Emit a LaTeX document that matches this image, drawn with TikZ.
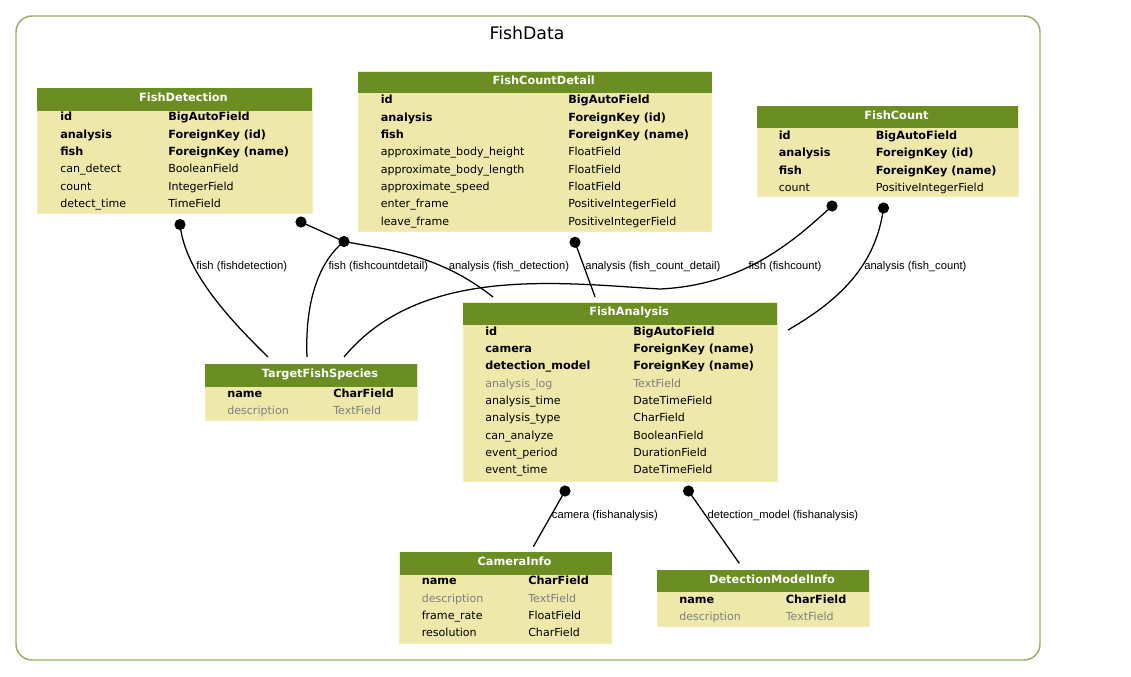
\documentclass[tikz,border=0pt]{standalone}
\usepackage{fontspec}
\setmainfont{DejaVu Sans}
\newfontfamily\lblfont{Liberation Sans}
\usetikzlibrary{fit}
\definecolor{hdr}{RGB}{107,142,35}
\definecolor{bodyc}{RGB}{238,232,170}
\definecolor{framec}{RGB}{151,176,101}
\definecolor{grayt}{RGB}{128,128,128}
\tikzset{
  tbodyst/.style={fill=bodyc, draw=bodyc!80!white, line width=0.5pt, inner sep=0pt},
  thdrst/.style={fill=hdr, inner sep=0pt},
  htext/.style={font=\fontsize{8.5}{10}\selectfont\bfseries, text=white, inner sep=0pt, anchor=base, yshift=-1.6pt, xshift=6.75pt},
  fb/.style={font=\fontsize{8.45}{10}\selectfont\bfseries, text=black, inner sep=0pt, anchor=base west},
  fr/.style={font=\fontsize{8.3}{10}\selectfont, text=black, inner sep=0pt, anchor=base west},
  fg/.style={font=\fontsize{8.3}{10}\selectfont, text=grayt, inner sep=0pt, anchor=base west},
  elbl/.style={font=\lblfont\fontsize{8.4}{10}\selectfont, inner sep=0pt, anchor=base west},
  dotn/.style={circle, fill=black, minimum size=8.4pt, inner sep=0pt},
  edge/.style={draw=black, line width=0.95pt},
}
% name, x1, ytop, x2, yheaderbottom, ybottom, title
\newcommand\ertable[7]{%
  \node[fit={(#2,#3)(#4,#6)}, tbodyst] (#1) {};
  \node[fit={(#2,#3)(#4,#5)}, thdrst] (#1h) {};
  \node[htext] (#1t) at (#1h.center) {#7};}
% name, x, baseline-y, style, text
\newcommand\erf[5]{\node[#4] (#1) at (#2,#3) {#5};}
\begin{document}
\begin{tikzpicture}[x=0.75pt,y=-0.75pt]
\useasboundingbox (0,0) rectangle (1131,676);
\draw[framec, line width=1.1pt, rounded corners=12pt] (16,16) rectangle (1040,660);
\node[font=\fontsize{13}{15}\selectfont, inner sep=0pt, anchor=base] (title) at (527,39) {FishData};

% FishDetection
\ertable{fd}{37}{88}{312}{110.5}{213.5}{FishDetection}
\erf{fdn1}{60}{120.8}{fb}{id}                \erf{fdt1}{168}{120.8}{fb}{BigAutoField}
\erf{fdn2}{60}{138.2}{fb}{analysis}          \erf{fdt2}{168}{138.2}{fb}{ForeignKey (id)}
\erf{fdn3}{60}{155.5}{fb}{fish}              \erf{fdt3}{168}{155.5}{fb}{ForeignKey (name)}
\erf{fdn4}{60}{172.9}{fr}{can\_detect}       \erf{fdt4}{168}{172.9}{fr}{BooleanField}
\erf{fdn5}{60}{190.2}{fr}{count}             \erf{fdt5}{168}{190.2}{fr}{IntegerField}
\erf{fdn6}{60}{207.6}{fr}{detect\_time}      \erf{fdt6}{168}{207.6}{fr}{TimeField}

% FishCountDetail
\ertable{fcd}{358}{71.5}{711.5}{93.3}{231.5}{FishCountDetail}
\erf{fcdn1}{380.5}{103.8}{fb}{id}                      \erf{fcdt1}{568}{103.8}{fb}{BigAutoField}
\erf{fcdn2}{380.5}{121.2}{fb}{analysis}                \erf{fcdt2}{568}{121.2}{fb}{ForeignKey (id)}
\erf{fcdn3}{380.5}{138.5}{fb}{fish}                    \erf{fcdt3}{568}{138.5}{fb}{ForeignKey (name)}
\erf{fcdn4}{380.5}{155.9}{fr}{approximate\_body\_height} \erf{fcdt4}{568}{155.9}{fr}{FloatField}
\erf{fcdn5}{380.5}{173.2}{fr}{approximate\_body\_length} \erf{fcdt5}{568}{173.2}{fr}{FloatField}
\erf{fcdn6}{380.5}{190.6}{fr}{approximate\_speed}       \erf{fcdt6}{568}{190.6}{fr}{FloatField}
\erf{fcdn7}{380.5}{207.9}{fr}{enter\_frame}             \erf{fcdt7}{568}{207.9}{fr}{PositiveIntegerField}
\erf{fcdn8}{380.5}{225.3}{fr}{leave\_frame}             \erf{fcdt8}{568}{225.3}{fr}{PositiveIntegerField}

% FishCount
\ertable{fc}{757}{106}{1018}{128.3}{196.8}{FishCount}
\erf{fcn1}{778.5}{139.5}{fb}{id}          \erf{fct1}{875.5}{139.5}{fb}{BigAutoField}
\erf{fcn2}{778.5}{156.9}{fb}{analysis}    \erf{fct2}{875.5}{156.9}{fb}{ForeignKey (id)}
\erf{fcn3}{778.5}{174.2}{fb}{fish}        \erf{fct3}{875.5}{174.2}{fb}{ForeignKey (name)}
\erf{fcn4}{778.5}{191.6}{fr}{count}       \erf{fct4}{875.5}{191.6}{fr}{PositiveIntegerField}

% FishAnalysis
\ertable{fa}{463}{302.5}{777.3}{325}{481}{FishAnalysis}
\erf{fan1}{485}{335.0}{fb}{id}                 \erf{fat1}{633}{335.0}{fb}{BigAutoField}
\erf{fan2}{485}{352.4}{fb}{camera}             \erf{fat2}{633}{352.4}{fb}{ForeignKey (name)}
\erf{fan3}{485}{369.7}{fb}{detection\_model}   \erf{fat3}{633}{369.7}{fb}{ForeignKey (name)}
\erf{fan4}{485}{387.1}{fg}{analysis\_log}      \erf{fat4}{633}{387.1}{fg}{TextField}
\erf{fan5}{485}{404.4}{fr}{analysis\_time}     \erf{fat5}{633}{404.4}{fr}{DateTimeField}
\erf{fan6}{485}{421.8}{fr}{analysis\_type}     \erf{fat6}{633}{421.8}{fr}{CharField}
\erf{fan7}{485}{439.1}{fr}{can\_analyze}       \erf{fat7}{633}{439.1}{fr}{BooleanField}
\erf{fan8}{485}{456.5}{fr}{event\_period}      \erf{fat8}{633}{456.5}{fr}{DurationField}
\erf{fan9}{485}{473.8}{fr}{event\_time}        \erf{fat9}{633}{473.8}{fr}{DateTimeField}

% TargetFishSpecies
\ertable{tfs}{205}{364}{417}{386.5}{420}{TargetFishSpecies}
\erf{tfsn1}{227}{397.3}{fb}{name}          \erf{tfst1}{333}{397.3}{fb}{CharField}
\erf{tfsn2}{227}{414.6}{fg}{description}   \erf{tfst2}{333}{414.6}{fg}{TextField}

% CameraInfo
\ertable{ci}{399.5}{552.3}{611.5}{575}{643.3}{CameraInfo}
\erf{cin1}{421.5}{584.7}{fb}{name}          \erf{cit1}{528}{584.7}{fb}{CharField}
\erf{cin2}{421.5}{602.0}{fg}{description}   \erf{cit2}{528}{602.0}{fg}{TextField}
\erf{cin3}{421.5}{619.4}{fr}{frame\_rate}   \erf{cit3}{528}{619.4}{fr}{FloatField}
\erf{cin4}{421.5}{636.7}{fr}{resolution}    \erf{cit4}{528}{636.7}{fr}{CharField}

% DetectionModelInfo
\ertable{dmi}{657}{570}{869}{592.3}{626}{DetectionModelInfo}
\erf{dmin1}{679}{603.0}{fb}{name}          \erf{dmit1}{785.5}{603.0}{fb}{CharField}
\erf{dmin2}{679}{620.3}{fg}{description}   \erf{dmit2}{785.5}{620.3}{fg}{TextField}

% connector ends
\node[dotn] (d1) at (180,224.5) {};
\node[dotn] (d2) at (301,222) {};
\node[dotn] (d3) at (344,241.5) {};
\node[dotn] (d4) at (575,242.3) {};
\node[dotn] (d5) at (832,206) {};
\node[dotn] (d6) at (883.5,208) {};
\node[dotn] (d7) at (565,491) {};
\node[dotn] (d8) at (688.5,491) {};
\coordinate (e1) at (268,357);
\coordinate (e2) at (493,297);
\coordinate (e3) at (307,357);
\coordinate (e4) at (595,296.7);
\coordinate (e5m) at (660,289);
\coordinate (e5) at (344,357);
\coordinate (e6) at (788,330);
\coordinate (e7) at (533.3,546.7);
\coordinate (e8) at (739.3,563.3);

\draw[edge] (d1.center) .. controls (185,270) and (225,315) .. (e1);
\draw[edge] (d2.center) -- (d3.center) .. controls (390,250) and (440,255) .. (e2);
\draw[edge] (d3.center) .. controls (315,265) and (305,310) .. (e3);
\draw[edge] (d4.center) -- (e4);
\draw[edge] (d5.center) .. controls (795,240) and (745,285) .. (e5m) .. controls (560,283) and (420,265) .. (e5);
\draw[edge] (d6.center) .. controls (876,265) and (840,300) .. (e6);
\draw[edge] (d7.center) -- (e7);
\draw[edge] (d8.center) -- (e8);

% connector labels
\node[elbl] (l1) at (196,269.5) {fish (fishdetection)};
\node[elbl] (l2) at (328.3,269.5) {fish (fishcountdetail)};
\node[elbl] (l3) at (448.7,269.5) {analysis (fish\_detection)};
\node[elbl] (l4) at (585,269.5) {analysis (fish\_count\_detail)};
\node[elbl] (l5) at (748.3,269.5) {fish (fishcount)};
\node[elbl] (l6) at (864,269.5) {analysis (fish\_count)};
\node[elbl] (l7) at (551.7,518.5) {camera (fishanalysis)};
\node[elbl] (l8) at (707.3,518.5) {detection\_model (fishanalysis)};
\end{tikzpicture}
\end{document}
